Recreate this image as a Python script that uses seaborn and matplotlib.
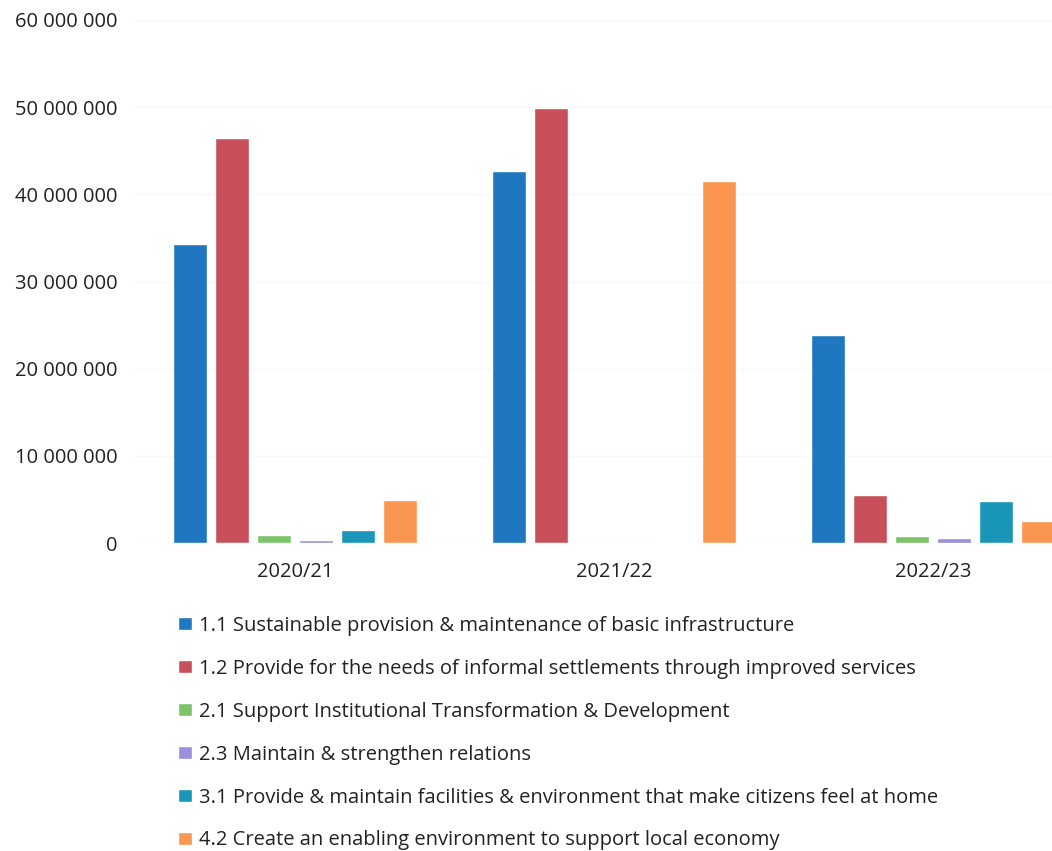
import numpy as np
import pandas as pd
import seaborn as sns
import matplotlib.pyplot as plt
from matplotlib.ticker import FuncFormatter

# 数据
years = ["2020/21", "2021/22", "2022/23"]
series = [
    "1.1 Sustainable provision & maintenance of basic infrastructure",
    "1.2 Provide for the needs of informal settlements through improved services",
    "2.1 Support Institutional Transformation & Development",
    "2.3 Maintain & strengthen relations",
    "3.1 Provide & maintain facilities & environment that make citizens feel at home",
    "4.2 Create an enabling environment to support local economy",
]
v_11 = [34_300_000, 42_700_000, 23_900_000]
v_12 = [46_500_000, 49_900_000, 5_500_000]
v_21 = [900_000, 0, 800_000]
v_23 = [350_000, 0, 600_000]
v_31 = [1_500_000, 100_000, 4_850_000]
v_42 = [4_900_000, 41_500_000, 2_550_000]
colors = ["#1f78bf", "#c8505b", "#7cc36a", "#9b8fdc", "#1a96b8", "#fb9650"]

rows = []
for name, vals in zip(series, [v_11, v_12, v_21, v_23, v_31, v_42]):
    for y, v in zip(years, vals):
        rows.append({"year": y, "series": name, "value": v})
df = pd.DataFrame(rows)

sns.set_style("white")
plt.rcParams['font.family'] = ['Open Sans', 'DejaVu Sans']

fig = plt.figure(figsize=(10.52, 8.51), dpi=100)
ax = fig.add_axes([0.1288, 0.3619, 0.9097, 0.6146])

sns.barplot(data=df, x="year", y="value", hue="series", hue_order=series,
            palette=colors, width=0.79, gap=0.21, ax=ax, saturation=1)

ax.set_ylim(0, 60_000_000)
ax.set_yticks(np.arange(0, 60_000_001, 10_000_000))
ax.yaxis.set_major_formatter(FuncFormatter(lambda v, p: f"{int(v):,}".replace(",", " ")))
ax.grid(axis="y", color="#f7f7f7", linewidth=1)
ax.set_axisbelow(True)
for s in ax.spines.values():
    s.set_visible(False)
ax.set_xlabel("")
ax.set_ylabel("")
ax.tick_params(axis="y", labelsize=14.5, colors="#222222", length=0, pad=13)
ax.tick_params(axis="x", labelsize=14.5, colors="#222222", length=0, pad=14)

handles, labels = ax.get_legend_handles_labels()
ax.get_legend().remove()
fig.legend(handles, labels, loc="upper left", bbox_to_anchor=(0.162, 0.286),
           frameon=False, fontsize=14.5, handlelength=0.65, handleheight=0.65,
           handletextpad=0.35, labelspacing=1.14, borderaxespad=0,
           labelcolor="#222222")

fig.savefig("out.png", dpi=100)
